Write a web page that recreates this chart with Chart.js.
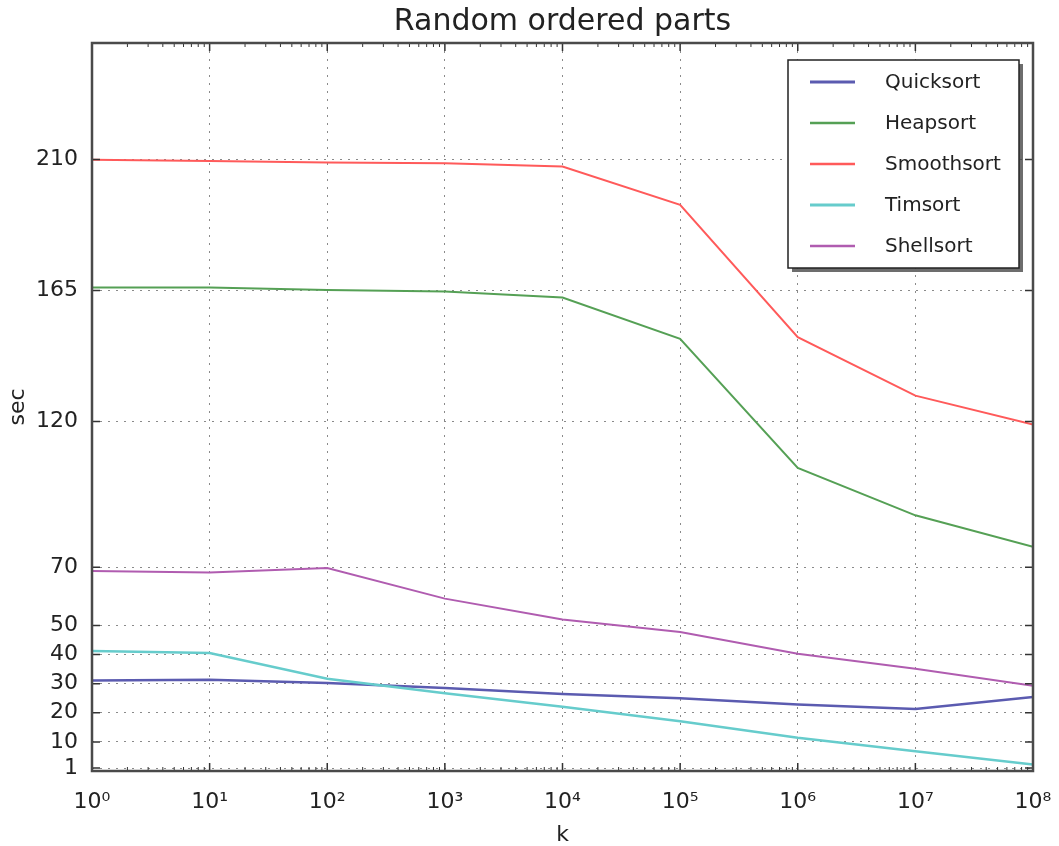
<!DOCTYPE html>
<html>
<head>
<meta charset="utf-8">
<title>Random ordered parts</title>
<script src="https://cdn.jsdelivr.net/npm/chart.js@4"></script>
<style>
    html, body { margin: 0; padding: 0; background: #fff; }
    #chart { display: block; }
</style>
</head>
<body>
<canvas id="chart" width="1059" height="846"></canvas>
<script>
// Data (k on a log axis, seconds on a linear axis)
const kValues = [1, 10, 100, 1e3, 1e4, 1e5, 1e6, 1e7, 1e8];
const quicksort = [31.1, 31.3, 30.2, 28.5, 26.4, 25.0, 22.8, 21.3, 25.4];
const heapsort = [166.0, 166.0, 165.2, 164.7, 162.6, 148.4, 104.1, 87.8, 77.0];
const smoothsort = [209.9, 209.5, 209.0, 208.7, 207.6, 194.4, 149.0, 128.9, 119.0];
const timsort = [41.2, 40.5, 31.7, 26.7, 22.1, 17.1, 11.4, 6.8, 2.2];
const shellsort = [68.7, 68.2, 69.7, 59.2, 52.0, 47.7, 40.3, 35.1, 29.3];

const seriesNames = ['Quicksort', 'Heapsort', 'Smoothsort', 'Timsort', 'Shellsort'];
const seriesValues = [quicksort, heapsort, smoothsort, timsort, shellsort];
const seriesColors = ['#5b5bb0', '#55a055', '#ff5a5a', '#66cccc', '#b05cb0'];
const seriesWidths = [2.5, 2, 2, 2.5, 2];

// Tick labels
const xTicks = [1, 10, 100, 1e3, 1e4, 1e5, 1e6, 1e7, 1e8];
const yTicks = [1, 10, 20, 30, 40, 50, 70, 120, 165, 210];

const FONT = "'DejaVu Sans', 'Liberation Sans', sans-serif";
const TEXT_COLOR = '#222';
const SUPERSCRIPTS = ['⁰', '¹', '²', '³', '⁴', '⁵', '⁶', '⁷', '⁸', '⁹'];

function powerLabel(value) {
    const exp = Math.round(Math.log10(value));
    return '10' + String(exp).split('').map(d => SUPERSCRIPTS[+d]).join('');
}

// Inside tick marks (major + log minor) and the dark frame
const frameTicks = {
    id: 'frameTicks',
    afterDatasetsDraw(chart) {
        const { ctx, chartArea: a, scales: { x, y } } = chart;
        ctx.save();
        ctx.strokeStyle = '#333';
        ctx.lineWidth = 1.5;
        ctx.beginPath();
        // major x ticks, top and bottom
        xTicks.forEach(v => {
            const px = x.getPixelForValue(v);
            ctx.moveTo(px, a.bottom); ctx.lineTo(px, a.bottom - 8);
            ctx.moveTo(px, a.top); ctx.lineTo(px, a.top + 8);
        });
        // y ticks, left and right
        yTicks.forEach(v => {
            const py = y.getPixelForValue(v);
            ctx.moveTo(a.left, py); ctx.lineTo(a.left + 8, py);
            ctx.moveTo(a.right, py); ctx.lineTo(a.right - 8, py);
        });
        ctx.stroke();

        // minor x ticks 2..9 in every decade
        ctx.lineWidth = 1;
        ctx.beginPath();
        for (let i = 0; i < xTicks.length - 1; i++) {
            for (let m = 2; m <= 9; m++) {
                const px = x.getPixelForValue(xTicks[i] * m);
                ctx.moveTo(px, a.bottom); ctx.lineTo(px, a.bottom - 4);
                ctx.moveTo(px, a.top); ctx.lineTo(px, a.top + 4);
            }
        }
        ctx.stroke();

        ctx.strokeStyle = '#4a4a4a';
        ctx.lineWidth = 2.5;
        ctx.strokeRect(a.left, a.top, a.right - a.left, a.bottom - a.top);
        ctx.restore();
    }
};

// Boxed legend with a drop shadow in the upper right of the plot
const boxLegend = {
    id: 'boxLegend',
    afterDraw(chart) {
        const { ctx, chartArea: a } = chart;
        const right = a.right - 14;
        const top = a.top + 17;
        const width = 231;
        const height = 208;
        const left = right - width;

        ctx.save();
        ctx.fillStyle = 'rgba(60, 60, 60, 0.75)';
        ctx.fillRect(left + 4, top + 4, width, height);
        ctx.fillStyle = '#fff';
        ctx.fillRect(left, top, width, height);
        ctx.strokeStyle = '#222';
        ctx.lineWidth = 1.5;
        ctx.strokeRect(left, top, width, height);

        ctx.font = '20px ' + FONT;
        ctx.textBaseline = 'middle';
        ctx.textAlign = 'left';
        chart.data.datasets.forEach((ds, i) => {
            const rowY = top + 22 + i * 41;
            ctx.strokeStyle = ds.borderColor;
            ctx.lineWidth = ds.borderWidth + 0.5;
            ctx.beginPath();
            ctx.moveTo(left + 22, rowY);
            ctx.lineTo(left + 67, rowY);
            ctx.stroke();
            ctx.fillStyle = TEXT_COLOR;
            ctx.fillText(ds.label, left + 97, rowY + 1);
        });
        ctx.restore();
    }
};

// Build the chart
document.addEventListener('DOMContentLoaded', function() {
    const datasets = seriesNames.map((name, i) => ({
        label: name,
        data: kValues.map((k, j) => ({ x: k, y: seriesValues[i][j] })),
        borderColor: seriesColors[i],
        backgroundColor: seriesColors[i],
        borderWidth: seriesWidths[i],
        pointRadius: 0,
        tension: 0,
        fill: false,
        order: seriesNames.length - i
    }));

    new Chart(document.getElementById('chart').getContext('2d'), {
        type: 'line',
        data: { datasets: datasets },
        options: {
            responsive: false,
            animation: false,
            devicePixelRatio: 1,
            layout: { padding: { top: 0, right: 26, bottom: 0, left: 0 } },
            plugins: {
                legend: { display: false },
                tooltip: { enabled: false },
                title: {
                    display: true,
                    fullSize: false,
                    text: 'Random ordered parts',
                    color: TEXT_COLOR,
                    font: { family: FONT, size: 30, weight: 'normal', lineHeight: 1.2 },
                    padding: { top: 4, bottom: 3 }
                }
            },
            scales: {
                x: {
                    type: 'logarithmic',
                    min: 1,
                    max: 1e8,
                    afterBuildTicks: scale => { scale.ticks = xTicks.map(v => ({ value: v })); },
                    afterFit: scale => {
                        scale.height = 75;
                        scale.paddingLeft = 0;
                        scale.paddingRight = 0;
                    },
                    ticks: {
                        color: TEXT_COLOR,
                        font: { family: FONT, size: 22 },
                        padding: 18,
                        maxRotation: 0,
                        autoSkip: false,
                        callback: value => powerLabel(value)
                    },
                    grid: { color: '#8a8a8a', lineWidth: 1, drawTicks: false },
                    border: { display: false, dash: [2, 6] },
                    title: {
                        display: true,
                        text: 'k',
                        color: TEXT_COLOR,
                        font: { family: FONT, size: 22, lineHeight: 1 },
                        padding: { top: 0, bottom: 0 }
                    }
                },
                y: {
                    type: 'linear',
                    min: 0,
                    max: 250,
                    afterBuildTicks: scale => { scale.ticks = yTicks.map(v => ({ value: v })); },
                    afterFit: scale => { scale.width = 92; },
                    ticks: {
                        color: TEXT_COLOR,
                        font: { family: FONT, size: 22 },
                        padding: 14,
                        autoSkip: false
                    },
                    grid: { color: '#8a8a8a', lineWidth: 1, drawTicks: false },
                    border: { display: false, dash: [2, 6] },
                    title: {
                        display: true,
                        text: 'sec',
                        color: TEXT_COLOR,
                        font: { family: FONT, size: 22, lineHeight: 1.2 },
                        padding: { top: 5, bottom: 0 }
                    }
                }
            }
        },
        plugins: [frameTicks, boxLegend]
    });
});
</script>
</body>
</html>
